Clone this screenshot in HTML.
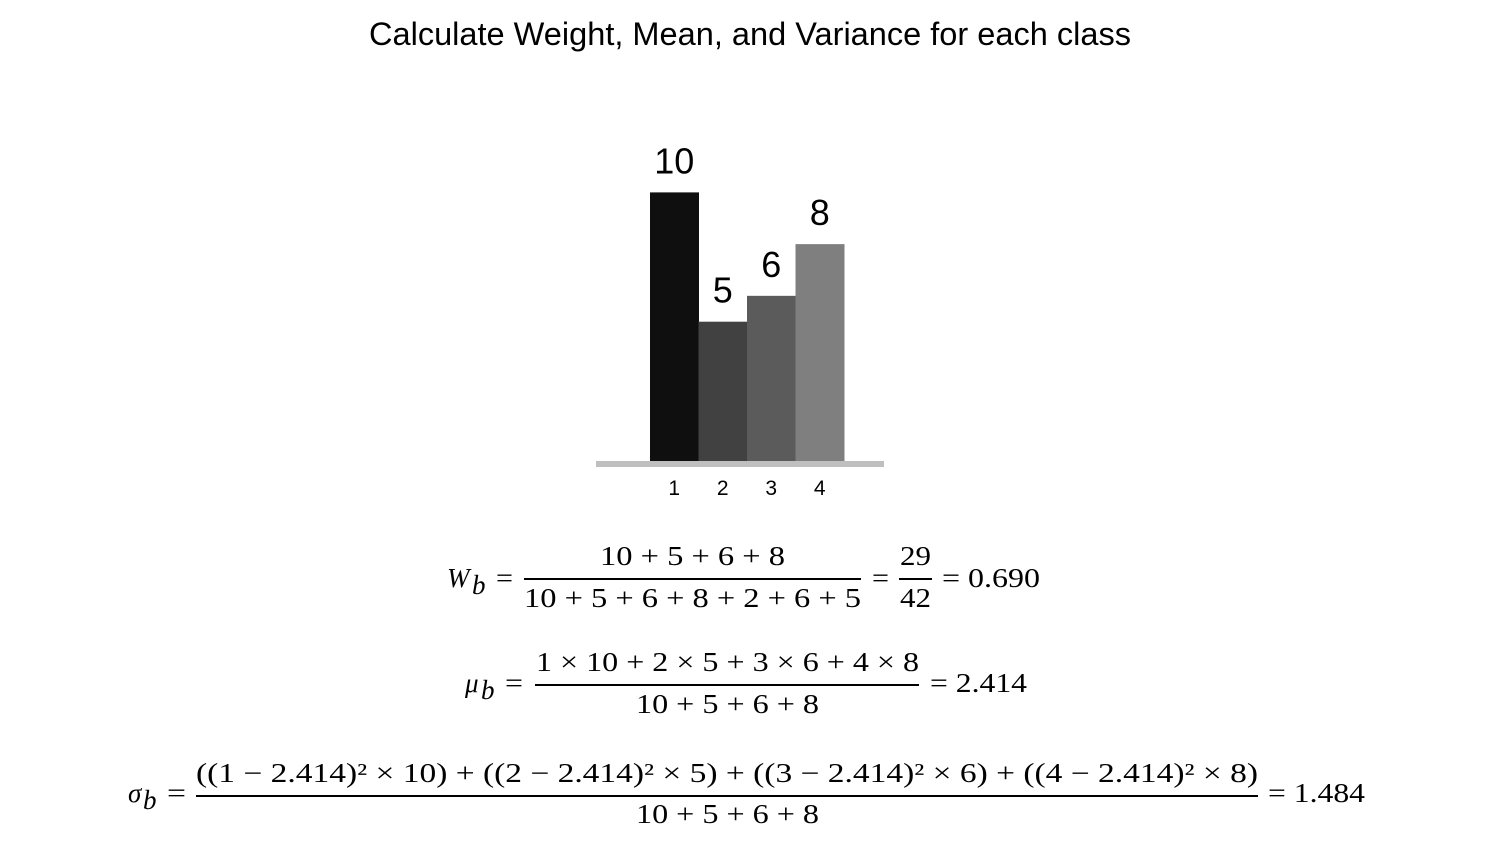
<!DOCTYPE html>
<html><head><meta charset="utf-8"><style>
html,body{margin:0;padding:0;background:#fff;}
svg{display:block;}
.s{font-family:"Liberation Sans","DejaVu Sans",sans-serif;}
.m{font-family:"Liberation Serif","DejaVu Serif",serif;font-size:27px;fill:#000;}
.i{font-style:italic;}
</style></head><body>
<svg id="c" width="1500" height="853" viewBox="0 0 1500 853">
<text class="s" x="750" y="45" text-anchor="middle" font-size="32" textLength="762" lengthAdjust="spacingAndGlyphs">Calculate Weight, Mean, and Variance for each class</text>
<g id="bars"></g>
<rect x="596" y="461" width="288" height="6" fill="#bfbfbf"/>

<g>
<text class="m i" x="447" y="587">W</text><text class="m i" x="472" y="594" font-size="19">b</text>
<text class="m" x="496" y="587" textLength="17" lengthAdjust="spacingAndGlyphs">=</text>
<text class="m" x="600" y="565" textLength="185" lengthAdjust="spacingAndGlyphs">10 + 5 + 6 + 8</text>
<rect x="524" y="578" width="337" height="2" fill="#000"/>
<text class="m" x="524" y="607" textLength="337" lengthAdjust="spacingAndGlyphs">10 + 5 + 6 + 8 + 2 + 6 + 5</text>
<text class="m" x="872" y="587" textLength="17" lengthAdjust="spacingAndGlyphs">=</text>
<text class="m" x="900" y="565" textLength="31" lengthAdjust="spacingAndGlyphs">29</text>
<rect x="899" y="578" width="33" height="2" fill="#000"/>
<text class="m" x="900" y="607" textLength="31" lengthAdjust="spacingAndGlyphs">42</text>
<text class="m" x="942" y="587" textLength="98" lengthAdjust="spacingAndGlyphs">= 0.690</text>
</g>

<g>
<text class="m i" x="465" y="692">μ</text><text class="m i" x="481" y="699" font-size="19">b</text>
<text class="m" x="505" y="692" textLength="18" lengthAdjust="spacingAndGlyphs">=</text>
<text class="m" x="536" y="671" textLength="383" lengthAdjust="spacingAndGlyphs">1 × 10 + 2 × 5 + 3 × 6 + 4 × 8</text>
<rect x="535" y="684" width="384" height="2" fill="#000"/>
<text class="m" x="636" y="713" textLength="183" lengthAdjust="spacingAndGlyphs">10 + 5 + 6 + 8</text>
<text class="m" x="930" y="692" textLength="97" lengthAdjust="spacingAndGlyphs">= 2.414</text>
</g>

<g>
<text class="m i" x="128" y="802">σ</text><text class="m i" x="143" y="809" font-size="19">b</text>
<text class="m" x="167" y="802" textLength="19" lengthAdjust="spacingAndGlyphs">=</text>
<text class="m" x="196" y="782" textLength="1062" lengthAdjust="spacingAndGlyphs">((1 − 2.414)² × 10) + ((2 − 2.414)² × 5) + ((3 − 2.414)² × 6) + ((4 − 2.414)² × 8)</text>
<rect x="196" y="795" width="1062" height="2" fill="#000"/>
<text class="m" x="636" y="823" textLength="183" lengthAdjust="spacingAndGlyphs">10 + 5 + 6 + 8</text>
<text class="m" x="1268" y="802" textLength="97" lengthAdjust="spacingAndGlyphs">= 1.484</text>
</g>
</svg>
<script>
const categories = ["1","2","3","4"];
const values = [10,5,6,8];
const valueLabels = ["10","5","6","8"];
const colors = ["#0f0f0f","#414141","#5b5b5b","#7f7f7f"];
const NS = "http://www.w3.org/2000/svg";
const g = document.getElementById("bars");
const x0 = 650, bw = 48.5, base = 461;
function xPos(i){ return x0 + i*bw; }
function yPos(v){ return 451 - 25.86*v; }
values.forEach((v,i)=>{
  const r = document.createElementNS(NS,"rect");
  r.setAttribute("x", xPos(i)); r.setAttribute("y", yPos(v));
  r.setAttribute("width", bw+0.5); r.setAttribute("height", base - yPos(v));
  r.setAttribute("fill", colors[i]);
  
  
  g.appendChild(r);
  const t = document.createElementNS(NS,"text");
  t.setAttribute("x", xPos(i)+bw/2); t.setAttribute("y", yPos(v)-19);
  t.setAttribute("text-anchor","middle"); t.setAttribute("class","s"); t.setAttribute("font-size","36");
  t.textContent = valueLabels[i];
  
  
  g.appendChild(t);
  const a = document.createElementNS(NS,"text");
  a.setAttribute("x", xPos(i)+bw/2); a.setAttribute("y", 495);
  a.setAttribute("text-anchor","middle"); a.setAttribute("class","s"); a.setAttribute("font-size","21");
  a.textContent = categories[i];
  
  
  g.appendChild(a);
});
</script>
</body></html>
